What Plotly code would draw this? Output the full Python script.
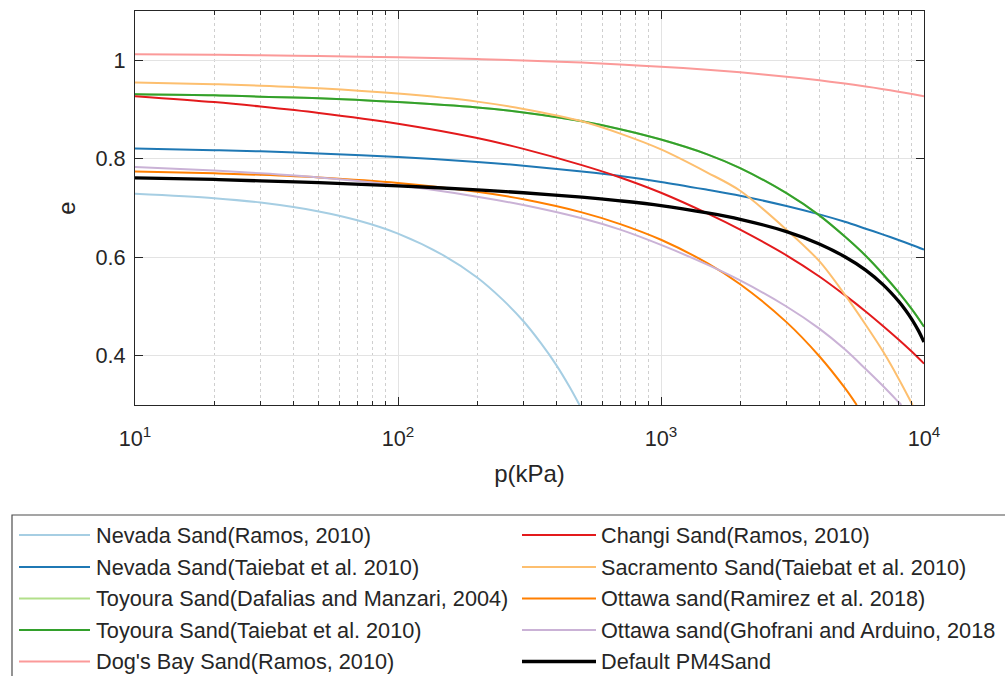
import plotly.graph_objects as go

# ---------------- data ----------------
series_names = [
    "Nevada Sand(Ramos, 2010)",
    "Nevada Sand(Taiebat et al. 2010)",
    "Toyoura Sand(Dafalias and Manzari, 2004)",
    "Toyoura Sand(Taiebat et al. 2010)",
    "Dog's Bay Sand(Ramos, 2010)",
    "Changi Sand(Ramos, 2010)",
    "Sacramento Sand(Taiebat et al. 2010)",
    "Ottawa sand(Ramirez et al. 2018)",
    "Ottawa sand(Ghofrani and Arduino, 2018",
    "Default PM4Sand",
]
series_colors = ["#a6cee3", "#1f78b4", "#b2df8a", "#33a02c", "#fb9a99",
                 "#e31a1c", "#fdbf6f", "#ff7f00", "#cab2d6", "#000000"]

p_common = [10, 20, 30, 50, 100, 200, 300, 500, 700, 1000, 1500, 2000,
            3000, 4000, 5000, 6000, 7000, 8000, 9000, 10000]

p_nevada_ramos = [10, 20, 30, 50, 70, 100, 150, 200, 250, 300, 350, 400, 450, 490]
e_nevada_ramos = [0.729, 0.720, 0.711, 0.693, 0.675, 0.648, 0.603, 0.559, 0.514,
                  0.470, 0.425, 0.381, 0.336, 0.300]

e_nevada_taiebat = [0.821, 0.8175, 0.815, 0.8106, 0.8035, 0.7935, 0.786, 0.774, 0.765,
                    0.753, 0.737, 0.725, 0.704, 0.687, 0.672, 0.658, 0.646, 0.635,
                    0.625, 0.6155]

e_toyoura_dm = [0.931, 0.929, 0.926, 0.923, 0.915, 0.904, 0.894, 0.876, 0.860,
                0.839, 0.809, 0.781, 0.730, 0.685, 0.642, 0.603, 0.565, 0.529,
                0.494, 0.459]
e_toyoura_taiebat = [0.931, 0.929, 0.926, 0.923, 0.915, 0.904, 0.894, 0.876, 0.860,
                     0.839, 0.809, 0.781, 0.730, 0.685, 0.642, 0.603, 0.565, 0.529,
                     0.494, 0.459]

e_dogs_bay = [1.012, 1.011, 1.010, 1.0086, 1.006, 1.0024, 0.9996, 0.9952, 0.9912,
              0.987, 0.9808, 0.9755, 0.9667, 0.9592, 0.9527, 0.9468, 0.9413, 0.9362,
              0.9315, 0.927]

e_changi = [0.927, 0.915, 0.906, 0.893, 0.871, 0.842, 0.820, 0.787, 0.762,
            0.731, 0.689, 0.656, 0.604, 0.561, 0.523, 0.490, 0.460, 0.433,
            0.408, 0.384]

p_sacramento = [10, 20, 30, 50, 100, 200, 300, 500, 700, 1000, 1500, 2000,
                3000, 4000, 5000, 6000, 7000, 8000, 9050]
e_sacramento = [0.955, 0.9514, 0.9484, 0.9432, 0.9323, 0.916, 0.901, 0.876, 0.851,
                0.819, 0.772, 0.735, 0.656, 0.592, 0.524, 0.463, 0.408, 0.354,
                0.300]

p_ottawa_ramirez = [10, 20, 30, 50, 100, 200, 300, 500, 700, 1000, 1500, 2000,
                    3000, 4000, 5000, 5550]
e_ottawa_ramirez = [0.7741, 0.7705, 0.7674, 0.7621, 0.751, 0.733, 0.7177, 0.6911,
                    0.6673, 0.6355, 0.588, 0.5453, 0.4683, 0.399, 0.3346, 0.300]

p_ottawa_ghofrani = [10, 20, 30, 50, 100, 200, 300, 500, 700, 1000, 1500, 2000,
                     3000, 4000, 5000, 6000, 7000, 8000, 8200]
e_ottawa_ghofrani = [0.783, 0.776, 0.7705, 0.762, 0.746, 0.723, 0.706, 0.679, 0.656,
                     0.625, 0.585, 0.553, 0.500, 0.455, 0.413, 0.373, 0.338, 0.306,
                     0.300]

p_pm4sand = [10, 20, 30, 50, 100, 200, 300, 500, 700, 1000, 1500, 2000, 3000,
             4000, 5000, 6000, 7000, 8000, 8500, 9000, 9500, 10000]
e_pm4sand = [0.761, 0.758, 0.755, 0.7515, 0.745, 0.737, 0.731, 0.722, 0.7145,
             0.705, 0.690, 0.677, 0.652, 0.627, 0.601, 0.574, 0.544, 0.511,
             0.493, 0.4735, 0.452, 0.428]

x_tick_vals = [10, 100, 1000, 10000]
x_tick_text = ["10<sup>1</sup>", "10<sup>2</sup>", "10<sup>3</sup>", "10<sup>4</sup>"]
y_tick_vals = [0.4, 0.6, 0.8, 1.0]
y_tick_text = ["0.4", "0.6", "0.8", "1"]

series_p = [p_nevada_ramos, p_common, p_common, p_common, p_common, p_common,
            p_sacramento, p_ottawa_ramirez, p_ottawa_ghofrani, p_pm4sand]
series_e = [e_nevada_ramos, e_nevada_taiebat, e_toyoura_dm, e_toyoura_taiebat,
            e_dogs_bay, e_changi, e_sacramento, e_ottawa_ramirez,
            e_ottawa_ghofrani, e_pm4sand]
series_widths = [2, 2, 2, 2, 2, 2, 2, 2, 2, 3.3]

# ---------------- figure ----------------
W, H = 1005, 676
ML, MR, MT, MB = 135, 81, 11, 271
PW, PH = W - ML - MR, H - MT - MB
TXT = "#262626"
FONT = "Liberation Sans, Arial, Helvetica, sans-serif"


def px2x(px):
    return (px - ML) / PW


def py2y(py):
    return (H - MB - py) / PH


fig = go.Figure()
for name, col, pv, ev, lw in zip(series_names, series_colors, series_p, series_e, series_widths):
    fig.add_trace(go.Scatter(x=pv, y=ev, mode="lines", name=name,
                             line=dict(color=col, width=lw, shape="spline", smoothing=0.9),
                             showlegend=False))

fig.update_layout(
    width=W, height=H,
    margin=dict(l=ML, r=MR, t=MT, b=MB, pad=0),
    paper_bgcolor="white", plot_bgcolor="white",
    font=dict(family=FONT, size=21.7, color=TXT),
    xaxis=dict(
        type="log", range=[1, 4],
        tickmode="array", tickvals=x_tick_vals, ticktext=x_tick_text,
        ticks="inside", ticklen=8, tickwidth=1, tickcolor=TXT,
        showline=True, linecolor=TXT, linewidth=1, mirror="allticks",
        showgrid=True, gridcolor="#e3e3e3", gridwidth=1, zeroline=False,
        tickfont=dict(size=21.7, color=TXT), ticklabelstandoff=14,
        minor=dict(ticks="inside", ticklen=4, tickcolor=TXT, dtick="D1",
                   showgrid=True, gridcolor="#cfcfcf", griddash="dot", gridwidth=1),
        title=dict(text="p(kPa)", font=dict(size=24, color=TXT), standoff=15),
    ),
    yaxis=dict(
        range=[0.3, 1.1],
        tickmode="array", tickvals=y_tick_vals, ticktext=y_tick_text,
        ticks="inside", ticklen=8, tickwidth=1, tickcolor=TXT,
        showline=True, linecolor=TXT, linewidth=1, mirror="allticks",
        showgrid=True, gridcolor="#e3e3e3", gridwidth=1, zeroline=False,
        tickfont=dict(size=21.7, color=TXT), ticklabelstandoff=4,
        title=dict(text="e", font=dict(size=24, color=TXT), standoff=13),
    ),
)

# ---------------- legend (two columns, column-wise order) ----------------
shapes = [dict(type="rect", xref="paper", yref="paper",
               x0=px2x(12), x1=px2x(1015), y0=py2y(515), y1=py2y(700),
               line=dict(color="#4d4d4d", width=1.2), fillcolor="rgba(0,0,0,0)",
               layer="above")]
annotations = []
row_py = [535, 567, 598.5, 630, 661.5]
col_line = [(19, 90), (522, 596)]
col_text = [94, 599]
for i, (name, col, lw) in enumerate(zip(series_names, series_colors, series_widths)):
    c, r = divmod(i, 5)
    yy = py2y(row_py[r])
    shapes.append(dict(type="line", xref="paper", yref="paper",
                       x0=px2x(col_line[c][0]), x1=px2x(col_line[c][1]), y0=yy, y1=yy,
                       line=dict(color=col, width=lw)))
    annotations.append(dict(xref="paper", yref="paper", x=px2x(col_text[c]), y=yy,
                            text=name, showarrow=False, xanchor="left", yanchor="middle",
                            font=dict(size=21.7, color=TXT, family=FONT)))
fig.update_layout(shapes=shapes, annotations=annotations)

fig.write_html("out.html")
